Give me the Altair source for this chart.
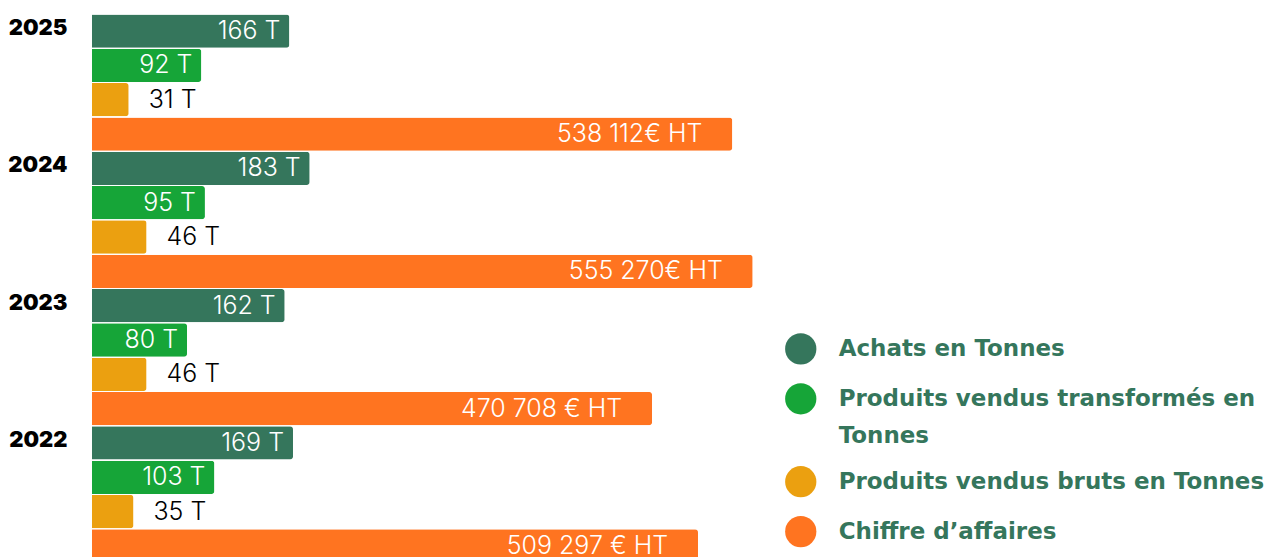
import altair as alt
import pandas as pd

years = ["2025", "2024", "2023", "2022"]
series = [
    "Achats en Tonnes",
    "Produits vendus transformés en Tonnes",
    "Produits vendus bruts en Tonnes",
    "Chiffre d’affaires",
]
achats = [166, 183, 162, 169]
transformes = [92, 95, 80, 103]
bruts = [31, 46, 46, 35]
chiffre = [538112, 555270, 470708, 509297]
chiffre_labels = ["538 112€ HT", "555 270€ HT", "470 708 € HT", "509 297 € HT"]
colors = ["#35765C", "#16A538", "#EBA010", "#FF7420"]

rows = []
for i, y in enumerate(years):
    rows.append({"row": f"{y}|0", "series": series[0], "value": achats[i], "label": f"{achats[i]} T", "kind": "in"})
    rows.append({"row": f"{y}|1", "series": series[1], "value": transformes[i], "label": f"{transformes[i]} T", "kind": "in"})
    rows.append({"row": f"{y}|2", "series": series[2], "value": bruts[i], "label": f"{bruts[i]} T", "kind": "out"})
    rows.append({"row": f"{y}|3", "series": series[3], "value": chiffre[i] / 1000, "label": chiffre_labels[i], "kind": "ca"})
df = pd.DataFrame(rows)
order = list(df["row"])

W = 1190
PX_PER_UNIT = 1.192

y_enc = alt.Y(
    "row:N",
    sort=order,
    scale=alt.Scale(paddingInner=0.03, paddingOuter=0),
    axis=alt.Axis(
        title=None, domain=False, ticks=False, labelPadding=25,
        labelExpr="slice(datum.value, 5) == '0' ? slice(datum.value, 0, 4) : ''",
        labelFont="Inter", labelFontWeight=900, labelFontSize=22, labelColor="#000000",
        labelOffset=-3,
    ),
)
x_enc = alt.X(
    "value:Q",
    scale=alt.Scale(domain=[0, W / PX_PER_UNIT], nice=False, zero=True),
    axis=None,
)

base = alt.Chart(df)

bars = base.mark_bar(cornerRadiusEnd=3).encode(
    x=x_enc,
    y=y_enc,
    color=alt.Color(
        "series:N",
        scale=alt.Scale(domain=series, range=colors),
        sort=series,
        legend=alt.Legend(
            title=None, orient="none", legendX=694, legendY=319,
            symbolType="circle", symbolSize=980, symbolStrokeWidth=0,
            labelFont="DejaVu Sans", labelFontWeight="bold", labelFontSize=23,
            labelColor="#35765C", labelLimit=700, rowPadding=18, labelOffset=22,
            labelExpr="datum.label == 'Produits vendus transformés en Tonnes' ? ['Produits vendus transformés en', 'Tonnes'] : datum.label",
            labelBaseline="middle",
        ),
    ),
)

txt_in = base.transform_filter("datum.kind == 'in'").mark_text(
    align="right", baseline="middle", dx=-9, font="Inter", fontWeight=300, fontSize=25, color="white"
).encode(x=x_enc, y=alt.Y("row:N", sort=order), text="label:N")

txt_ca = base.transform_filter("datum.kind == 'ca'").mark_text(
    align="right", baseline="middle", dx=-30, font="Inter", fontWeight=300, fontSize=25, color="white"
).encode(x=x_enc, y=alt.Y("row:N", sort=order), text="label:N")

txt_out = base.transform_filter("datum.kind == 'out'").mark_text(
    align="left", baseline="middle", dx=20, font="Inter", fontWeight=300, fontSize=25, color="black"
).encode(x=x_enc, y=alt.Y("row:N", sort=order), text="label:N")

chart = alt.layer(bars, txt_in, txt_ca, txt_out).properties(
    width=W, height=549,
    autosize=alt.AutoSizeParams(type="none"),
    padding={"left": 84, "top": 6, "right": 0, "bottom": 0},
).configure(
    view=alt.ViewConfig(stroke=None),
    style={"guide-label": {"lineHeight": 37}},
)

chart.save("out.html", embed_options={"renderer": "svg", "actions": False})
